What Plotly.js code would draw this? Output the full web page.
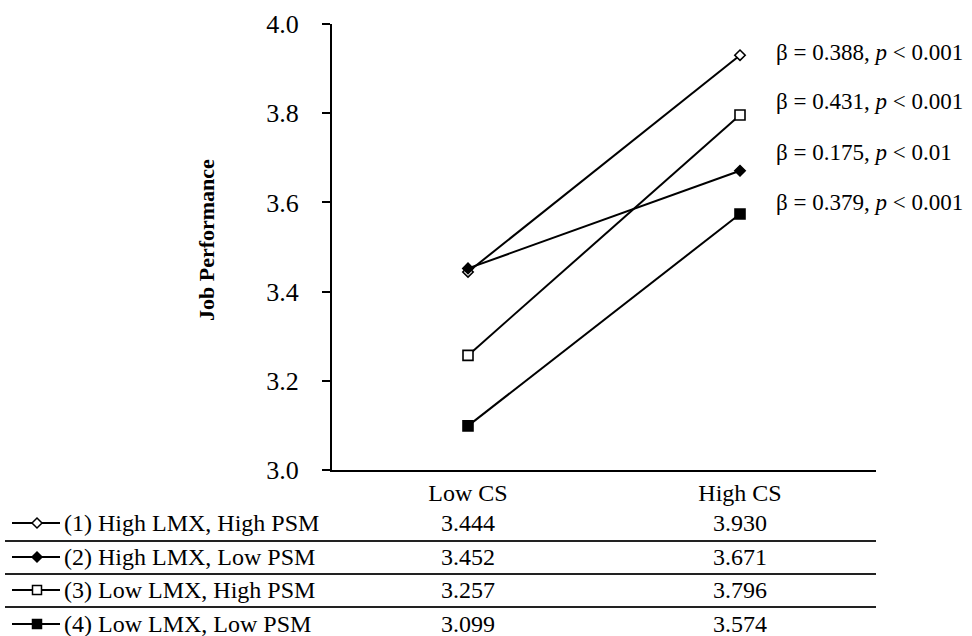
<!DOCTYPE html>
<html>
<head>
<meta charset="utf-8">
<script src="https://cdn.plot.ly/plotly-3.0.1.min.js"></script>
<style>
  html, body { margin: 0; padding: 0; background: #fff; }
  #chart { width: 972px; height: 636px; }
</style>
</head>
<body>
<div id="chart"></div>
<script>
// ---- data ----
const categories = ['Low CS', 'High CS'];
const seriesNames = ['(1) High LMX, High PSM', '(2) High LMX, Low PSM', '(3) Low LMX, High PSM', '(4) Low LMX, Low PSM'];
const lowCS = [3.444, 3.452, 3.257, 3.099];
const highCS = [3.930, 3.671, 3.796, 3.574];
const betas = ['0.388', '0.175', '0.431', '0.379'];
const pValues = ['0.001', '0.01', '0.001', '0.001'];
const yTicks = [3.0, 3.2, 3.4, 3.6, 3.8, 4.0];

// ---- styling ----
const FONT = '"Liberation Serif", "Times New Roman", serif';
const symbols = ['diamond', 'diamond', 'square', 'square'];
const fills = ['white', 'black', 'white', 'black'];
const sizes = [8, 8, 10, 10];

// plot area in pixels
const L = 332, R = 876, T = 24, B = 470, W = 972, H = 636;
const px2x = p => (p - L) / (R - L);
const px2y = p => (B - p) / (B - T);

const traces = seriesNames.map((name, i) => ({
  type: 'scatter', mode: 'lines+markers', name: name,
  x: categories, y: [lowCS[i], highCS[i]],
  line: { color: 'black', width: 2 },
  marker: { symbol: symbols[i], size: sizes[i], color: fills[i], line: { color: 'black', width: 1.6 } },
  showlegend: false, hoverinfo: 'skip'
}));

const annotations = [];
const shapes = [];

// beta labels, ordered top to bottom by high CS value
const order = highCS.map((v, i) => i).sort((a, b) => highCS[b] - highCS[a]);
const betaRows = [53, 102, 152, 202];
order.forEach((si, k) => {
  annotations.push({
    xref: 'paper', yref: 'paper', x: px2x(774), y: px2y(betaRows[k]),
    xanchor: 'left', yanchor: 'middle', showarrow: false,
    text: 'β = ' + betas[si] + ', <i>p</i> &lt; ' + pValues[si],
    font: { family: FONT, size: 23, color: 'black' }
  });
});

// y-axis title
annotations.push({
  xref: 'paper', yref: 'paper', x: px2x(207), y: px2y(240),
  xanchor: 'center', yanchor: 'middle', showarrow: false, textangle: -90,
  text: '<b>Job Performance</b>', font: { family: FONT, size: 22, color: 'black' }
});

// data table below
const rowY = [523, 557, 590, 624];
const sepY = [541, 574, 607];
seriesNames.forEach((name, i) => {
  const yp = px2y(rowY[i]);
  annotations.push({
    xref: 'paper', yref: 'paper', x: px2x(62), y: yp, xanchor: 'left', yanchor: 'middle',
    showarrow: false, text: name, font: { family: FONT, size: 24, color: 'black' }
  });
  [lowCS[i], highCS[i]].forEach((v, c) => {
    annotations.push({
      xref: 'x', yref: 'paper', x: categories[c], y: yp, xanchor: 'center', yanchor: 'middle',
      showarrow: false, text: v.toFixed(3), font: { family: FONT, size: 24, color: 'black' }
    });
  });
  // legend key line
  shapes.push({ type: 'line', xref: 'paper', yref: 'paper', x0: px2x(12), x1: px2x(60), y0: yp, y1: yp,
    line: { color: 'black', width: 2 } });
  const cx = 37, cy = rowY[i];
  let path;
  if (symbols[i] === 'diamond') {
    const r = 5;
    path = `M${px2x(cx - r)},${px2y(cy)} L${px2x(cx)},${px2y(cy - r)} L${px2x(cx + r)},${px2y(cy)} L${px2x(cx)},${px2y(cy + r)} Z`;
  } else {
    const r = 4.5;
    path = `M${px2x(cx - r)},${px2y(cy - r)} L${px2x(cx + r)},${px2y(cy - r)} L${px2x(cx + r)},${px2y(cy + r)} L${px2x(cx - r)},${px2y(cy + r)} Z`;
  }
  shapes.push({ type: 'path', xref: 'paper', yref: 'paper', path: path,
    fillcolor: fills[i], line: { color: 'black', width: 1.5 } });
});
sepY.forEach(y => {
  shapes.push({ type: 'line', xref: 'paper', yref: 'paper', x0: px2x(5), x1: 1, y0: px2y(y), y1: px2y(y),
    line: { color: '#222', width: 2 } });
});

const layout = {
  width: W, height: H,
  margin: { l: L, r: W - R, t: T, b: H - B },
  paper_bgcolor: 'white', plot_bgcolor: 'white',
  showlegend: false,
  font: { family: FONT, color: 'black' },
  xaxis: {
    type: 'category', categoryarray: categories, range: [-0.5, 1.5],
    showline: true, linecolor: 'black', linewidth: 2, mirror: false,
    showgrid: false, zeroline: false, ticks: '',
    tickfont: { family: FONT, size: 24, color: 'black' }, fixedrange: true
  },
  yaxis: {
    range: [3.0, 4.0], tickvals: yTicks, ticktext: yTicks.map(v => v.toFixed(1)),
    showline: true, linecolor: 'black', linewidth: 2,
    ticks: 'outside', ticklen: 8, tickwidth: 2, tickcolor: 'black',
    ticklabelstandoff: 18,
    showgrid: false, zeroline: false,
    tickfont: { family: FONT, size: 26, color: 'black' }, fixedrange: true
  },
  annotations: annotations,
  shapes: shapes
};

Plotly.newPlot('chart', traces, layout, { displayModeBar: false, staticPlot: true });
</script>
</body>
</html>
